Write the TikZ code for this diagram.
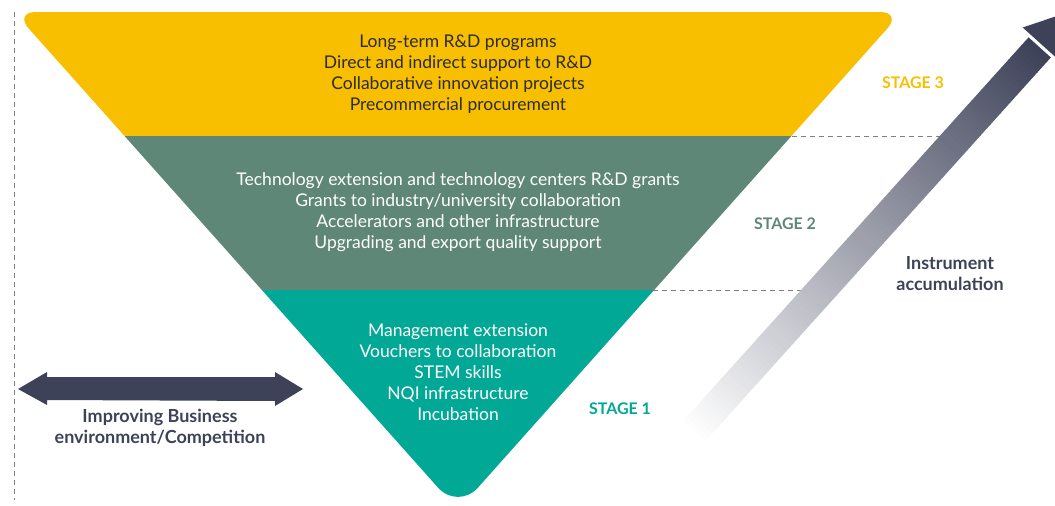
\documentclass[tikz,border=0pt]{standalone}
\usepackage{fontspec}
\setmainfont{Lato}
\usetikzlibrary{positioning, calc}
\definecolor{stageyellow}{HTML}{F8BF00}
\definecolor{stagegreen}{HTML}{5F8777}
\definecolor{stageteal}{HTML}{00A895}
\definecolor{navy}{HTML}{3E4259}
\definecolor{inktext}{HTML}{2B2B2B}

\begin{document}
\begin{tikzpicture}[x=1pt, y=-1pt,
  bandtext/.style={align=center, font=\fontsize{17.5}{21}\selectfont},
  stagelabel/.style={font=\fontsize{16}{20}\selectfont\bfseries},
  sidelabel/.style={align=center, text=navy, font=\fontsize{18}{21}\selectfont\bfseries},
  guide/.style={gray, line width=0.9pt, dash pattern=on 5pt off 4pt}]
  \useasboundingbox (0,0) rectangle (1055,506);

  % left guide
  \draw[guide] (14,12) -- (14,500);

  % the inverted triangle, cut into three bands
  \begin{scope}
    \clip (458,12) [rounded corners=22pt] -- (902,12) [rounded corners=30pt] -- (458,510)
          [rounded corners=22pt] -- (14,12) -- cycle;
    \fill[stageyellow] (0,0) rectangle (1055,136);
    \fill[stagegreen] (0,136) rectangle (1055,290);
    \fill[stageteal] (0,290) rectangle (1055,520);
  \end{scope}

  \coordinate (yg) at (792,136);
  \coordinate (gt) at (653,290);
  \coordinate (ygEnd) at (945,136);
  \coordinate (gtEnd) at (805,290);
  \draw[guide] (yg) -- (ygEnd);
  \draw[guide] (gt) -- (gtEnd);

  \node[bandtext, text=inktext] (s3) at (458,74)
    {Long-term R\&D programs\\Direct and indirect support to R\&D\\Collaborative innovation projects\\Precommercial procurement};
  \node[bandtext, text=white] (s2) at (458,212)
    {Technology extension and technology centers R\&D grants\\Grants to industry/university collaboration\\Accelerators and other infrastructure\\Upgrading and export quality support};
  \node[bandtext, text=white] (s1) at (458,372)
    {Management extension\\Vouchers to collaboration\\STEM skills\\NQI infrastructure\\Incubation};

  \node[stagelabel, text=stageyellow] (lab3) at (913,83) {STAGE 3};
  \node[stagelabel, text=stagegreen] (lab2) at (785,224) {STAGE 2};
  \node[stagelabel, text=stageteal] (lab1) at (620,409) {STAGE 1};

  % instrument accumulation arrow, faded in slices
  \begin{scope}[shift={(688,438)}, rotate=48]
    \foreach \i in {0,...,104} {
      \pgfmathtruncatemacro{\pct}{\i*100/104}
      \fill[navy!\pct!white] (5*\i,-15) -- (5*\i+5.6,-15) -- (5*\i+5.6,15) -- (5*\i,15) -- cycle;
    }
    \fill[navy] (529,-15) -- (529,-26) -- (575,0) -- (529,26) -- (529,15) -- cycle;
  \end{scope}
  \node[sidelabel] (acc) at (950,274) {Instrument\\accumulation};

  % business environment arrow
  \coordinate (envL) at (18,389);
  \coordinate (envR) at (303,389);
  \fill[navy] (envL) -- ++(29,-17) -- ++(0,5) -- ($(envR)+(-28,-12)$) -- ++(0,-5) -- (envR)
    -- ++(-28,17) -- ++(0,-5) -- ($(envL)+(29,11)$) -- ++(0,5) -- cycle;
  \node[sidelabel] (env) at (160,428) {Improving Business\\environment/Competition};
\end{tikzpicture}
\end{document}
